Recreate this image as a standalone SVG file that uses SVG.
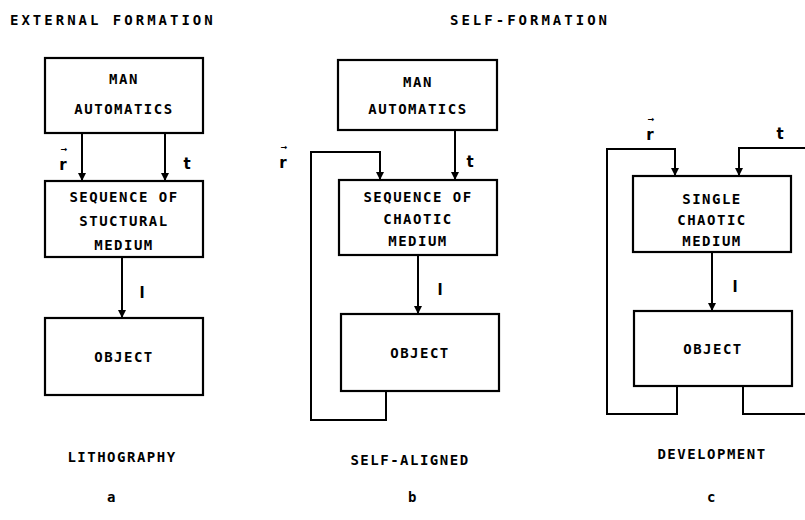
<svg xmlns="http://www.w3.org/2000/svg" width="805" height="520" viewBox="0 0 805 520">
<style>
  .box { fill: none; stroke: #000; stroke-width: 2.2; }
  .ln { fill: none; stroke: #000; stroke-width: 2; }
  .t { font-family: "DejaVu Sans Mono", "Liberation Mono", monospace; font-weight: bold; font-size: 14px; letter-spacing: 1.5px; fill: #000; text-anchor: middle; }
  .title { font-family: "DejaVu Sans Mono", "Liberation Mono", monospace; font-weight: bold; font-size: 14px; letter-spacing: 3px; fill: #000; }
  .sym { font-family: "DejaVu Sans", "Liberation Sans", sans-serif; font-weight: bold; font-size: 15px; fill: #000; text-anchor: middle; }
  .vec { font-family: "DejaVu Sans", "Liberation Sans", sans-serif; font-weight: bold; font-size: 8px; fill: #000; text-anchor: middle; }
</style>
<defs>
  <marker id="ah" viewBox="0 0 10 10" refX="10" refY="5" markerWidth="4" markerHeight="4" orient="auto" markerUnits="strokeWidth">
    <path d="M0,0 L10,5 L0,10 z" fill="#000"/>
  </marker>
</defs>

<text class="title" x="10" y="25">EXTERNAL FORMATION</text>
<text class="title" x="450" y="25">SELF-FORMATION</text>

<g id="connectors">
  <!-- panel a -->
  <line class="ln" x1="82" y1="133" x2="82" y2="181" marker-end="url(#ah)"/>
  <line class="ln" x1="165" y1="133" x2="165" y2="181" marker-end="url(#ah)"/>
  <line class="ln" x1="122" y1="257" x2="122" y2="318" marker-end="url(#ah)"/>
  <!-- panel b -->
  <line class="ln" x1="455" y1="130" x2="455" y2="180" marker-end="url(#ah)"/>
  <polyline class="ln" points="386,391 386,420 311,420 311,152 380,152 380,180" marker-end="url(#ah)"/>
  <line class="ln" x1="418" y1="255" x2="418" y2="314" marker-end="url(#ah)"/>
  <!-- panel c -->
  <polyline class="ln" points="677,386 677,414 607,414 607,149 675,149 675,176" marker-end="url(#ah)"/>
  <polyline class="ln" points="805,148 739,148 739,176" marker-end="url(#ah)"/>
  <polyline class="ln" points="743,386 743,414 805,414"/>
  <line class="ln" x1="712" y1="252" x2="712" y2="311" marker-end="url(#ah)"/>
</g>

<g id="labels">
  <text class="sym" x="63" y="170">r</text><text class="vec" x="64" y="152">→</text>
  <text class="sym" x="187" y="169">t</text>
  <text class="sym" x="142" y="298">l</text>
  <text class="sym" x="283" y="168">r</text><text class="vec" x="284" y="150">→</text>
  <text class="sym" x="470" y="167">t</text>
  <text class="sym" x="440" y="295">l</text>
  <text class="sym" x="650" y="140">r</text><text class="vec" x="651" y="122">→</text>
  <text class="sym" x="780" y="139">t</text>
  <text class="sym" x="735" y="292">l</text>
</g>

<g id="a-man">
  <rect class="box" x="45" y="58" width="158" height="75"/>
  <text class="t" x="124" y="84">MAN</text>
  <text class="t" x="124" y="114">AUTOMATICS</text>
</g>
<g id="a-medium">
  <rect class="box" x="45" y="181" width="158" height="76"/>
  <text class="t" x="124" y="202">SEQUENCE OF</text>
  <text class="t" x="124" y="226">STUCTURAL</text>
  <text class="t" x="124" y="250">MEDIUM</text>
</g>
<g id="a-object">
  <rect class="box" x="45" y="318" width="158" height="77"/>
  <text class="t" x="124" y="362">OBJECT</text>
</g>
<text class="t" x="122" y="462">LITHOGRAPHY</text>
<text class="t" x="112" y="502">a</text>

<g id="b-man">
  <rect class="box" x="338" y="60" width="159" height="70"/>
  <text class="t" x="418" y="87">MAN</text>
  <text class="t" x="418" y="114">AUTOMATICS</text>
</g>
<g id="b-medium">
  <rect class="box" x="339" y="180" width="158" height="75"/>
  <text class="t" x="418" y="202">SEQUENCE OF</text>
  <text class="t" x="418" y="224">CHAOTIC</text>
  <text class="t" x="418" y="246">MEDIUM</text>
</g>
<g id="b-object">
  <rect class="box" x="341" y="314" width="158" height="77"/>
  <text class="t" x="420" y="358">OBJECT</text>
</g>
<text class="t" x="410" y="465">SELF-ALIGNED</text>
<text class="t" x="413" y="502">b</text>

<g id="c-medium">
  <rect class="box" x="633" y="176" width="158" height="76"/>
  <text class="t" x="712" y="204">SINGLE</text>
  <text class="t" x="712" y="225">CHAOTIC</text>
  <text class="t" x="712" y="246">MEDIUM</text>
</g>
<g id="c-object">
  <rect class="box" x="634" y="311" width="158" height="75"/>
  <text class="t" x="713" y="354">OBJECT</text>
</g>
<text class="t" x="712" y="459">DEVELOPMENT</text>
<text class="t" x="712" y="502">c</text>
</svg>
